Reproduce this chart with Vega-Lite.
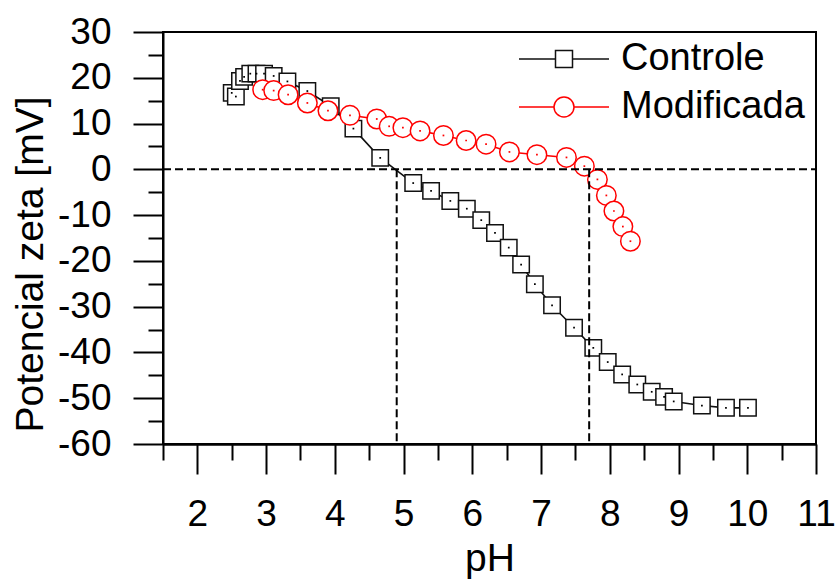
{
  "$schema": "https://vega.github.io/schema/vega-lite/v6.json",
  "width": 653,
  "height": 412,
  "autosize": {"type": "none"},
  "padding": {"left": 163, "top": 32, "right": 21, "bottom": 135},
  "background": "white",
  "config": {
    "font": "Liberation Sans",
    "view": {"stroke": "black", "strokeWidth": 2},
    "axis": {
      "grid": false,
      "domainColor": "black",
      "domainWidth": 2,
      "tickColor": "black",
      "tickWidth": 2,
      "labelColor": "black",
      "labelFont": "Liberation Sans",
      "labelFontSize": 37,
      "labelPadding": 22,
      "labelFlush": false,
      "labelOverlap": false,
      "titleColor": "black",
      "titleFont": "Liberation Sans",
      "titleFontSize": 39,
      "titleFontWeight": "normal"
    }
  },
  "resolve": {"axis": {"x": "independent"}},
  "datasets": {
    "pts": [
      {"series": "Controle", "pH": 2.50, "zeta": 16.7},
      {"series": "Controle", "pH": 2.56, "zeta": 15.9},
      {"series": "Controle", "pH": 2.62, "zeta": 19.3},
      {"series": "Controle", "pH": 2.68, "zeta": 20.2},
      {"series": "Controle", "pH": 2.77, "zeta": 20.9},
      {"series": "Controle", "pH": 2.86, "zeta": 20.9},
      {"series": "Controle", "pH": 2.97, "zeta": 20.9},
      {"series": "Controle", "pH": 3.11, "zeta": 20.4},
      {"series": "Controle", "pH": 3.31, "zeta": 19.2},
      {"series": "Controle", "pH": 3.60, "zeta": 17.1},
      {"series": "Controle", "pH": 3.94, "zeta": 13.8},
      {"series": "Controle", "pH": 4.27, "zeta": 8.9},
      {"series": "Controle", "pH": 4.66, "zeta": 2.5},
      {"series": "Controle", "pH": 5.14, "zeta": -3.0},
      {"series": "Controle", "pH": 5.40, "zeta": -4.7},
      {"series": "Controle", "pH": 5.68, "zeta": -6.9},
      {"series": "Controle", "pH": 5.92, "zeta": -8.6},
      {"series": "Controle", "pH": 6.13, "zeta": -11.1},
      {"series": "Controle", "pH": 6.33, "zeta": -13.9},
      {"series": "Controle", "pH": 6.53, "zeta": -17.1},
      {"series": "Controle", "pH": 6.71, "zeta": -20.8},
      {"series": "Controle", "pH": 6.91, "zeta": -25.1},
      {"series": "Controle", "pH": 7.16, "zeta": -29.7},
      {"series": "Controle", "pH": 7.48, "zeta": -34.6},
      {"series": "Controle", "pH": 7.76, "zeta": -39.0},
      {"series": "Controle", "pH": 7.97, "zeta": -42.1},
      {"series": "Controle", "pH": 8.18, "zeta": -44.8},
      {"series": "Controle", "pH": 8.40, "zeta": -47.0},
      {"series": "Controle", "pH": 8.61, "zeta": -48.6},
      {"series": "Controle", "pH": 8.79, "zeta": -49.7},
      {"series": "Controle", "pH": 8.93, "zeta": -50.7},
      {"series": "Controle", "pH": 9.34, "zeta": -51.6},
      {"series": "Controle", "pH": 9.69, "zeta": -52.1},
      {"series": "Controle", "pH": 10.01, "zeta": -52.1},
      {"series": "Modificada", "pH": 2.95, "zeta": 17.4},
      {"series": "Modificada", "pH": 3.11, "zeta": 17.2},
      {"series": "Modificada", "pH": 3.32, "zeta": 16.3},
      {"series": "Modificada", "pH": 3.60, "zeta": 14.5},
      {"series": "Modificada", "pH": 3.90, "zeta": 12.8},
      {"series": "Modificada", "pH": 4.22, "zeta": 11.8},
      {"series": "Modificada", "pH": 4.61, "zeta": 11.0},
      {"series": "Modificada", "pH": 4.79, "zeta": 9.4},
      {"series": "Modificada", "pH": 4.99, "zeta": 9.1},
      {"series": "Modificada", "pH": 5.24, "zeta": 8.4},
      {"series": "Modificada", "pH": 5.58, "zeta": 7.4},
      {"series": "Modificada", "pH": 5.91, "zeta": 6.3},
      {"series": "Modificada", "pH": 6.20, "zeta": 5.5},
      {"series": "Modificada", "pH": 6.54, "zeta": 3.8},
      {"series": "Modificada", "pH": 6.94, "zeta": 3.2},
      {"series": "Modificada", "pH": 7.37, "zeta": 2.6},
      {"series": "Modificada", "pH": 7.63, "zeta": 0.7},
      {"series": "Modificada", "pH": 7.82, "zeta": -2.2},
      {"series": "Modificada", "pH": 7.95, "zeta": -5.7},
      {"series": "Modificada", "pH": 8.06, "zeta": -9.1},
      {"series": "Modificada", "pH": 8.19, "zeta": -12.5},
      {"series": "Modificada", "pH": 8.30, "zeta": -15.7}
    ],
    "refs": [
      {"x": 1.5, "y": 0, "x2": 11, "y2": 0},
      {"x": 4.9, "y": 0, "x2": 4.9, "y2": -60},
      {"x": 7.7, "y": 0, "x2": 7.7, "y2": -60}
    ]
  },
  "encoding": {
    "y": {
      "field": "zeta",
      "type": "quantitative",
      "scale": {"domain": [-60, 30], "nice": false, "zero": false},
      "axis": {
        "title": "Potencial zeta [mV]",
        "titlePadding": 7,
        "titleY": 232,
        "values": [-60, -55, -50, -45, -40, -35, -30, -25, -20, -15, -10, -5, 0, 5, 10, 15, 20, 25, 30],
        "labelExpr": "datum.value % 10 === 0 ? toString(datum.value) : ''",
        "tickSize": {"condition": {"test": "datum.value % 10 === 0", "value": 30}, "value": 15}
      }
    }
  },
  "layer": [
    {
      "data": {"name": "pts"},
      "mark": {"type": "line", "strokeWidth": 1.6},
      "encoding": {
        "x": {
          "field": "pH",
          "type": "quantitative",
          "scale": {"domain": [1.5, 11], "nice": false, "zero": false},
          "axis": {
            "orient": "bottom",
            "title": "pH",
            "titlePadding": 7,
            "values": [2, 3, 4, 5, 6, 7, 8, 9, 10, 11],
            "format": "d",
            "tickSize": 30
          }
        },
        "stroke": {
          "field": "series",
          "type": "nominal",
          "scale": {"domain": ["Controle", "Modificada"], "range": ["#111111", "#ff0000"]},
          "legend": {
            "title": null,
            "orient": "none",
            "legendX": 382,
            "legendY": 8,
            "padding": 0,
            "symbolSize": 400,
            "symbolStrokeWidth": 1.5,
            "labelFont": "Liberation Sans",
            "labelFontSize": 38,
            "labelColor": "black",
            "labelOffset": 38,
            "labelLimit": 400,
            "rowPadding": 10,
            "encode": {
              "symbols": {
                "update": {
                  "shape": {"signal": "datum.value === 'Controle' ? 'M-4.5,0H-0.85M0.85,0H4.5M-0.85,-0.85H0.85V0.85H-0.85Z' : 'M-4.5,0H-1M1,0H4.5M1,0A1,1,0,1,1,-1,0A1,1,0,1,1,1,0Z'"},
                  "fill": {"value": "transparent"},
                  "strokeWidth": {"value": 1.5},
                  "opacity": {"value": 1}
                }
              }
            }
          }
        }
      }
    },
    {
      "data": {"name": "pts"},
      "transform": [{"filter": "datum.series === 'Controle'"}],
      "mark": {"type": "point", "shape": "square", "filled": true, "fill": "white", "fillOpacity": 1, "opacity": 1, "size": 270, "strokeWidth": 1.5},
      "encoding": {
        "x": {"field": "pH", "type": "quantitative", "axis": null},
        "stroke": {"field": "series", "type": "nominal"}
      }
    },
    {
      "data": {"name": "pts"},
      "transform": [{"filter": "datum.series === 'Controle'"}],
      "mark": {"type": "point", "shape": "square", "filled": true, "color": "black", "opacity": 1, "size": 3},
      "encoding": {
        "x": {"field": "pH", "type": "quantitative", "axis": null}
      }
    },
    {
      "data": {"name": "pts"},
      "transform": [{"filter": "datum.series === 'Modificada'"}],
      "mark": {"type": "point", "shape": "circle", "filled": true, "fill": "white", "fillOpacity": 1, "opacity": 1, "size": 380, "strokeWidth": 1.5},
      "encoding": {
        "x": {"field": "pH", "type": "quantitative", "axis": null},
        "stroke": {"field": "series", "type": "nominal"}
      }
    },
    {
      "data": {"name": "pts"},
      "transform": [{"filter": "datum.series === 'Modificada'"}],
      "mark": {"type": "point", "shape": "square", "filled": true, "color": "#ff0000", "opacity": 1, "size": 3},
      "encoding": {
        "x": {"field": "pH", "type": "quantitative", "axis": null}
      }
    },
    {
      "data": {"name": "refs"},
      "mark": {"type": "rule", "color": "black", "strokeWidth": 2, "strokeDash": [8, 4]},
      "encoding": {
        "x": {
          "field": "x",
          "type": "quantitative",
          "axis": {
            "orient": "bottom",
            "title": null,
            "values": [1.5, 2.5, 3.5, 4.5, 5.5, 6.5, 7.5, 8.5, 9.5, 10.5],
            "labels": false,
            "tickSize": 16
          }
        },
        "y": {"field": "y", "type": "quantitative"},
        "x2": {"field": "x2"},
        "y2": {"field": "y2"}
      }
    }
  ]
}
